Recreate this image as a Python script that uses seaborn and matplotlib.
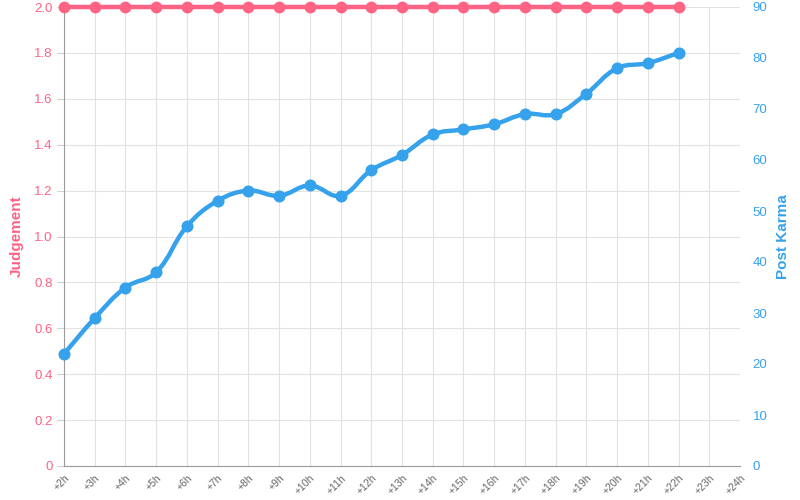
"""Judgement vs post karma by hour, two y axes."""

import matplotlib
matplotlib.use("Agg")
import matplotlib.pyplot as plt
import numpy as np
import seaborn as sns
from matplotlib.path import Path
from matplotlib.patches import PathPatch

hour_labels = ["+%dh" % h for h in range(2, 25)]
judgement = [2.0] * 21
post_karma = [22, 29, 35, 38, 47, 52, 54, 53, 55, 53, 58, 61, 65, 66, 67, 69, 69, 73, 78, 79, 81]

PINK = "#ff6384"
BLUE = "#36a2eb"
GREY = "#666666"


def bezier_path(xs, ys, sx, sy, tension=0.4):
    # chart.js style spline, control points computed in pixel-like space
    px = np.asarray(xs, float) * sx
    py = np.asarray(ys, float) * sy
    n = len(px)
    verts = [(px[0], py[0])]
    codes = [Path.MOVETO]
    cp = []
    for i in range(n):
        p0 = (px[max(i - 1, 0)], py[max(i - 1, 0)])
        p2 = (px[min(i + 1, n - 1)], py[min(i + 1, n - 1)])
        d01 = np.hypot(px[i] - p0[0], py[i] - p0[1])
        d12 = np.hypot(p2[0] - px[i], p2[1] - py[i])
        tot = d01 + d12 if d01 + d12 else 1
        fa, fb = tension * d01 / tot, tension * d12 / tot
        cp.append(((px[i] - fa * (p2[0] - p0[0]), py[i] - fa * (p2[1] - p0[1])),
                   (px[i] + fb * (p2[0] - p0[0]), py[i] + fb * (p2[1] - p0[1]))))
    for i in range(1, n):
        verts += [cp[i - 1][1], cp[i][0], (px[i], py[i])]
        codes += [Path.CURVE4] * 3
    verts = [(x / sx, y / sy) for x, y in verts]
    return Path(verts, codes)


sns.set_style("white")
plt.rcParams["font.family"] = ["Liberation Sans", "DejaVu Sans"]

fig = plt.figure(figsize=(8, 5), dpi=100)
ax = fig.add_axes([0.08, 0.068, 0.845, 0.918])
ax2 = ax.twinx()

x_all = np.arange(len(hour_labels))
x_j = x_all[: len(judgement)]
x_k = x_all[: len(post_karma)]

sns.lineplot(x=x_j, y=judgement, ax=ax, color=PINK, linewidth=3.2,
             marker="o", markersize=8.5, markeredgewidth=0, clip_on=False, zorder=5)

ax2.add_patch(PathPatch(bezier_path(x_k, post_karma, 676 / 22, 459 / 90),
                        facecolor="none", edgecolor=BLUE, linewidth=3.2,
                        capstyle="round", joinstyle="round"))
sns.scatterplot(x=x_k, y=post_karma, ax=ax2, color=BLUE, s=75, linewidth=0,
                clip_on=False, zorder=5)

ax.set_xlim(0, len(hour_labels) - 1)
ax.set_ylim(0, 2.0)
ax2.set_ylim(0, 90)
ax.set_xticks(x_all)
ax.set_xticklabels(hour_labels, rotation=45, ha="right", rotation_mode="anchor",
                   fontsize=7.5, color=GREY)
ax.set_yticks(np.arange(0, 2.01, 0.2))
ax.set_yticklabels(["0"] + ["%.1f" % v for v in np.arange(0.2, 2.01, 0.2)],
                   fontsize=9.5, color=PINK)
ax2.set_yticks(np.arange(0, 91, 10))
ax2.set_yticklabels([str(v) for v in range(0, 91, 10)], fontsize=9.5, color=BLUE)

ax.grid(True, color="#e2e2e2", linewidth=0.8)
ax.set_axisbelow(True)
for a in (ax, ax2):
    for s in ("top", "right"):
        a.spines[s].set_visible(False)
    a.spines["left"].set_visible(a is ax)
    a.spines["bottom"].set_visible(a is ax)
ax.spines["left"].set_color("#9a9a9a")
ax.spines["bottom"].set_color("#9a9a9a")
ax.tick_params(axis="y", length=5, color="#d0d0d0", pad=3)
ax.tick_params(axis="x", length=4, color="#d0d0d0", pad=1)
ax2.tick_params(axis="y", length=0, pad=9)

ax.set_ylabel("Judgement", color=PINK, fontsize=11, fontweight="bold", labelpad=8)
ax2.set_ylabel("Post Karma", color=BLUE, fontsize=11, fontweight="bold", labelpad=6)
ax.set_xlabel("")

fig.savefig("out.png", dpi=100)
